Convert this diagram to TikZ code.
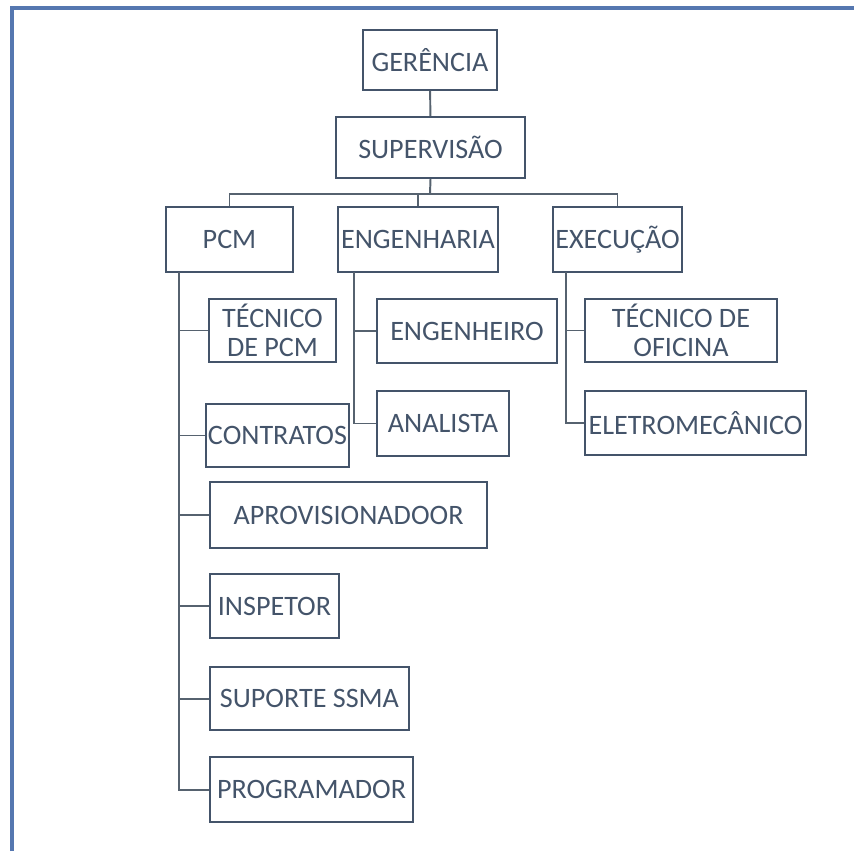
\documentclass[tikz,border=0pt]{standalone}
\usepackage{fontspec}
\setmainfont{Carlito}
\usepackage{tikz}
\usetikzlibrary{positioning}
\usepackage{xcolor}
\definecolor{orgtext}{HTML}{44546A}
\definecolor{orgline}{HTML}{56626F}
\definecolor{orgframe}{HTML}{5577B0}

\tikzset{
orgbox/.style={rectangle, draw=orgtext, line width=1.4pt, align=center, text=orgtext, inner sep=0pt, font=\fontsize{20}{21}\selectfont},
orgedge/.style={draw=orgline, line width=1.4pt},
}

\begin{document}
\begin{tikzpicture}[x=0.025cm, y=-0.025cm]
\useasboundingbox (0,0) rectangle (854,851);
\draw[orgframe, line width=2.2pt] (12,851) -- (12,8) -- (854,8);

% top of the chart
\node[orgbox, minimum width=3.35cm, minimum height=1.5cm] (ger) at (430,60) {GERÊNCIA};
\node[orgbox, minimum width=4.725cm, minimum height=1.525cm] (sup) at (430.5,147.5) {SUPERVISÃO};

% the three areas
\node[orgbox, minimum width=3.175cm, minimum height=1.625cm] (pcm) at (229.5,239.5) {PCM};
\node[orgbox, minimum width=4cm, minimum height=1.625cm] (eng) at (418,239.5) {ENGENHARIA};
\node[orgbox, minimum width=3.225cm, minimum height=1.625cm] (exe) at (617.5,239.5) {EXECUÇÃO};

% PCM staff
\node[orgbox, minimum width=3.175cm, minimum height=1.575cm, font=\fontsize{20}{20.5}\selectfont] (tpcm) at (272.5,330.5) {TÉCNICO\\DE PCM};
\node[orgbox, minimum width=3.575cm, minimum height=1.575cm] (contr) at (277.5,435.5) {CONTRATOS};
\node[orgbox, minimum width=6.925cm, minimum height=1.65cm] (aprov) at (348.5,515) {APROVISIONADOOR};
\node[orgbox, minimum width=3.225cm, minimum height=1.6cm] (insp) at (274.5,606) {INSPETOR};
\node[orgbox, minimum width=4.975cm, minimum height=1.575cm] (ssma) at (309.5,698.5) {SUPORTE SSMA};
\node[orgbox, minimum width=5.075cm, minimum height=1.625cm] (prog) at (311.5,789.5) {PROGRAMADOR};

% engineering staff
\node[orgbox, minimum width=4.5cm, minimum height=1.6cm] (engr) at (467,331) {ENGENHEIRO};
\node[orgbox, minimum width=3.3cm, minimum height=1.625cm] (anal) at (443,423.5) {ANALISTA};

% execution staff
\node[orgbox, minimum width=4.8cm, minimum height=1.575cm, font=\fontsize{20}{20.5}\selectfont] (tof) at (681,330.5) {TÉCNICO DE\\OFICINA};
\node[orgbox, minimum width=5.525cm, minimum height=1.6cm] (elet) at (695.5,423) {ELETROMECÂNICO};

\coordinate (bus) at (430,194);
\coordinate (pcmspine) at (179,272);
\coordinate (engspine) at (354,272);
\coordinate (exespine) at (566,272);

\draw[orgedge] (ger) -- (sup);
\draw[orgedge] (sup.south) -- (bus);
\draw[orgedge] (pcm.north) -- (pcm.north |- bus) -- (exe.north |- bus) -- (exe.north);
\draw[orgedge] (eng.north) -- (eng.north |- bus);

\draw[orgedge] (pcmspine) |- (prog.west);
\foreach \c in {tpcm, contr, aprov, insp, ssma}
  \draw[orgedge] (\c.west -| pcmspine) -- (\c.west);
\draw[orgedge] (engspine) |- (anal.west);
\draw[orgedge] (engr.west -| engspine) -- (engr.west);
\draw[orgedge] (exespine) |- (elet.west);
\draw[orgedge] (tof.west -| exespine) -- (tof.west);

\end{tikzpicture}
\end{document}
